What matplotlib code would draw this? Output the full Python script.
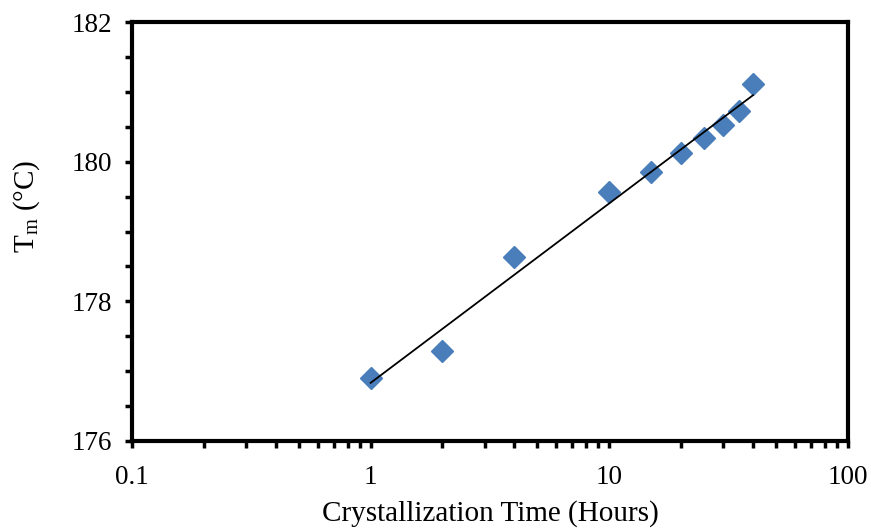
import numpy as np
import matplotlib.pyplot as plt
from matplotlib.ticker import FixedLocator, FixedFormatter, MultipleLocator, LogLocator, NullFormatter

# crystallization time (hours) and melting temperature (deg C)
hours = [1, 2, 4, 10, 15, 20, 25, 30, 35, 40]
tm = [176.90, 177.29, 178.64, 179.57, 179.85, 180.12, 180.34, 180.52, 180.73, 181.11]

x_ticks = [0.1, 1, 10, 100]
x_tick_labels = ["0.1", "1", "10", "100"]
y_ticks = [176, 178, 180, 182]

plt.rcParams["font.family"] = ["Liberation Serif", "DejaVu Serif"]
plt.rcParams["mathtext.fontset"] = "custom"
plt.rcParams["mathtext.rm"] = "Liberation Serif"

fig = plt.figure(figsize=(8.71, 5.28), dpi=100)
ax = fig.add_axes([0.1515, 0.1648, 0.9736 - 0.1515, 0.9583 - 0.1648])

ax.plot(hours, tm, linestyle="none", marker="D", markersize=11,
        color="#4A7EBB", markeredgecolor="#4A7EBB", zorder=3)

# logarithmic trend line
b, a = np.polyfit(np.log10(hours), tm, 1)
xfit = np.array([min(hours), max(hours)], dtype=float)
ax.plot(xfit, a + b * np.log10(xfit), color="black", linewidth=1.3, zorder=4)

ax.set_xscale("log")
ax.set_xlim(0.1, 100)
ax.set_ylim(176, 182)

ax.xaxis.set_major_locator(FixedLocator(x_ticks))
ax.xaxis.set_major_formatter(FixedFormatter(x_tick_labels))
ax.xaxis.set_minor_locator(LogLocator(base=10, subs=np.arange(2, 10)))
ax.xaxis.set_minor_formatter(NullFormatter())
ax.yaxis.set_major_locator(FixedLocator(y_ticks))
ax.yaxis.set_minor_locator(MultipleLocator(0.5))

for s in ax.spines.values():
    s.set_linewidth(3)

ax.tick_params(which="both", direction="out", width=2.5, color="black")
ax.tick_params(which="major", length=5, labelsize=19.5)
ax.tick_params(which="minor", length=5)
ax.tick_params(axis="x", which="major", pad=12)
ax.tick_params(axis="y", which="major", pad=9)

ax.set_xlabel("Crystallization Time (Hours)", fontsize=21, labelpad=7.5)
ax.set_ylabel(r"T$_\mathregular{m}$ (°C)", fontsize=21)
ax.yaxis.set_label_coords(-0.125, 0.56)

fig.savefig("out.png", dpi=100)
